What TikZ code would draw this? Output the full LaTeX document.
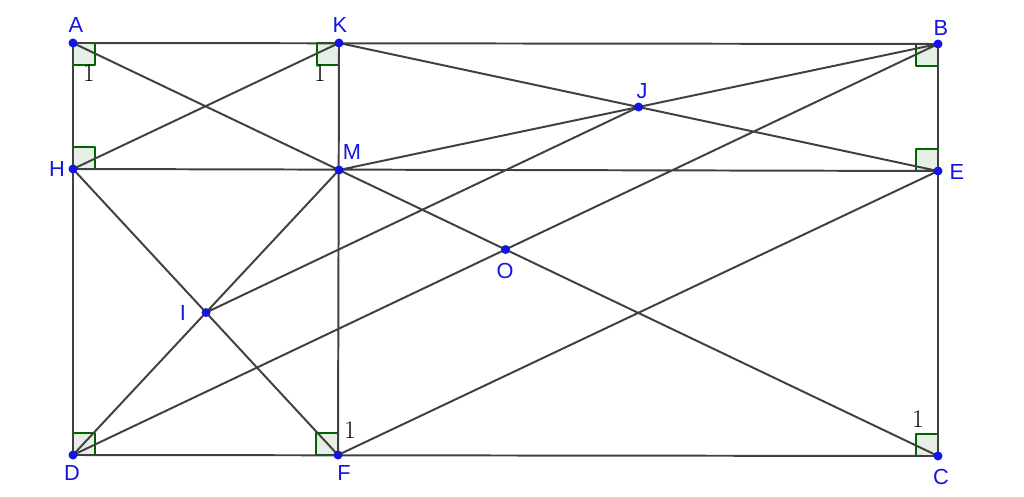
\documentclass[tikz,border=0pt]{standalone}
\usepackage{fontspec}
\setsansfont{Liberation Sans}
\definecolor{ptblue}{RGB}{21,21,224}
\definecolor{lgray}{RGB}{64,64,64}
\definecolor{agreen}{RGB}{0,100,0}
\begin{document}
\begin{tikzpicture}[x=0.025cm, y=-0.025cm, line join=round, line cap=round,
    seg/.style={lgray, line width=1.4pt},
    rang/.style={draw=agreen, line width=0.9pt, fill=agreen, fill opacity=0.1, draw opacity=1},
    lab/.style={ptblue, font=\sffamily\fontsize{15.5}{18}\selectfont, inner sep=0pt},
    one/.style={font=\rmfamily\fontsize{18}{20}\selectfont, inner sep=0pt}]
    \useasboundingbox (0,0) rectangle (1024,497);
    \coordinate (A) at (73,43);   \coordinate (K) at (339,43);  \coordinate (B) at (938,44);
    \coordinate (H) at (73,169);  \coordinate (M) at (339,170); \coordinate (E) at (938,171);
    \coordinate (D) at (73,455);  \coordinate (F) at (338,455); \coordinate (C) at (938,456);
    \coordinate (J) at (intersection of K--E and M--B);
    \coordinate (O) at (intersection of A--C and D--B);
    \coordinate (I) at (intersection of D--M and H--F);
    % right angles
    \def\r{22}
    \draw[rang] (A) rectangle ++(\r,\r);
    \draw[rang] (K) rectangle ++(-\r,\r);
    \draw[rang] (B) rectangle ++(-\r,\r);
    \draw[rang] (H) rectangle ++(\r,-\r);
    \draw[rang] (E) rectangle ++(-\r,-\r);
    \draw[rang] (D) rectangle ++(\r,-\r);
    \draw[rang] (F) rectangle ++(-\r,-\r);
    \draw[rang] (C) rectangle ++(-\r,-\r);
    % segments
    \draw[seg] (A)--(B)--(C)--(D)--cycle;
    \draw[seg] (K)--(F) (H)--(E) (A)--(C) (D)--(B) (K)--(E) (M)--(B);
    \draw[seg] (D)--(M) (H)--(F) (H)--(K) (I)--(J) (F)--(E);
    \foreach \p in {A,K,B,H,M,E,J,O,I,D,F,C} \fill[ptblue] (\p) circle (3.2pt);
    % labels
    \node[lab] (lA) at (76,25) {A};
    \node[lab] (lK) at (340,25) {K};
    \node[lab] (lB) at (941,28) {B};
    \node[lab] (lH) at (57,169) {H};
    \node[lab] (lM) at (352,152) {M};
    \node[lab] (lE) at (957,172) {E};
    \node[lab] (lJ) at (642,91) {J};
    \node[lab] (lO) at (505,271) {O};
    \node[lab] (lI) at (183,313) {I};
    \node[lab] (lD) at (72,473) {D};
    \node[lab] (lF) at (344,473) {F};
    \node[lab] (lC) at (941,477) {C};
    \node[one] (oA) at (89,73) {1};
    \node[one] (oK) at (320,73) {1};
    \node[one] (oF) at (350,430) {1};
    \node[one] (oC) at (918,419) {1};
\end{tikzpicture}
\end{document}
